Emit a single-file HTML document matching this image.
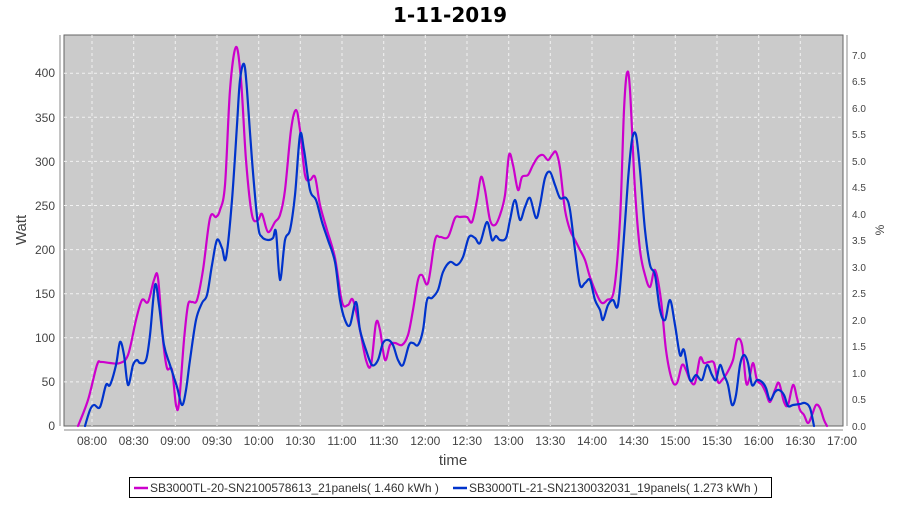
<!DOCTYPE html>
<html><head><meta charset="utf-8"><style>
body{margin:0;background:#fff;}
text{font-family:"Liberation Sans","DejaVu Sans",sans-serif;}
</style></head><body>
<svg width="900" height="500" xmlns="http://www.w3.org/2000/svg">
<rect width="900" height="500" fill="#fff"/>
<text x="450" y="22" text-anchor="middle" font-size="20" font-weight="bold" fill="#000" style="font-family:'DejaVu Sans',sans-serif">1-11-2019</text>
<rect x="64" y="35" width="779" height="391" fill="#cbcbcb" stroke="#666" stroke-width="1"/>
<g stroke="#f2f2f2" stroke-dasharray="3,3" stroke-width="1">
<line x1="64" x2="843" y1="381.9" y2="381.9"/><line x1="64" x2="843" y1="337.8" y2="337.8"/>
<line x1="64" x2="843" y1="293.7" y2="293.7"/><line x1="64" x2="843" y1="249.6" y2="249.6"/>
<line x1="64" x2="843" y1="205.5" y2="205.5"/><line x1="64" x2="843" y1="161.4" y2="161.4"/>
<line x1="64" x2="843" y1="117.3" y2="117.3"/><line x1="64" x2="843" y1="73.2" y2="73.2"/>
<line y1="35" y2="426" x1="92" x2="92"/><line y1="35" y2="426" x1="133.7" x2="133.7"/>
<line y1="35" y2="426" x1="175.3" x2="175.3"/><line y1="35" y2="426" x1="217" x2="217"/>
<line y1="35" y2="426" x1="258.7" x2="258.7"/><line y1="35" y2="426" x1="300.3" x2="300.3"/>
<line y1="35" y2="426" x1="342" x2="342"/><line y1="35" y2="426" x1="383.7" x2="383.7"/>
<line y1="35" y2="426" x1="425.3" x2="425.3"/><line y1="35" y2="426" x1="467" x2="467"/>
<line y1="35" y2="426" x1="508.7" x2="508.7"/><line y1="35" y2="426" x1="550.3" x2="550.3"/>
<line y1="35" y2="426" x1="592" x2="592"/><line y1="35" y2="426" x1="633.7" x2="633.7"/>
<line y1="35" y2="426" x1="675.3" x2="675.3"/><line y1="35" y2="426" x1="717" x2="717"/>
<line y1="35" y2="426" x1="758.7" x2="758.7"/><line y1="35" y2="426" x1="800.3" x2="800.3"/>
</g>
<g font-size="12" fill="#444" text-anchor="end">
<text x="55" y="430">0</text><text x="55" y="386">50</text><text x="55" y="342">100</text>
<text x="55" y="298">150</text><text x="55" y="254">200</text><text x="55" y="210">250</text>
<text x="55" y="166">300</text><text x="55" y="122">350</text><text x="55" y="77">400</text>
</g>
<g stroke="#888"><line x1="60" x2="60" y1="35" y2="426"/><line x1="847" x2="847" y1="35" y2="426"/><line x1="64" x2="843" y1="430" y2="430"/></g>
<g font-size="10" fill="#444">
<text x="852" y="430">0.0</text><text x="852" y="403">0.5</text><text x="852" y="377">1.0</text>
<text x="852" y="350">1.5</text><text x="852" y="324">2.0</text><text x="852" y="297">2.5</text>
<text x="852" y="271">3.0</text><text x="852" y="244">3.5</text><text x="852" y="218">4.0</text>
<text x="852" y="191">4.5</text><text x="852" y="165">5.0</text><text x="852" y="138">5.5</text>
<text x="852" y="112">6.0</text><text x="852" y="85">6.5</text><text x="852" y="59">7.0</text>
</g>
<g font-size="12" fill="#444" text-anchor="middle">
<text x="92" y="445">08:00</text><text x="133.7" y="445">08:30</text><text x="175.3" y="445">09:00</text>
<text x="217" y="445">09:30</text><text x="258.7" y="445">10:00</text><text x="300.3" y="445">10:30</text>
<text x="342" y="445">11:00</text><text x="383.7" y="445">11:30</text><text x="425.3" y="445">12:00</text>
<text x="467" y="445">12:30</text><text x="508.7" y="445">13:00</text><text x="550.3" y="445">13:30</text>
<text x="592" y="445">14:00</text><text x="633.7" y="445">14:30</text><text x="675.3" y="445">15:00</text>
<text x="717" y="445">15:30</text><text x="758.7" y="445">16:00</text><text x="800.3" y="445">16:30</text>
<text x="842" y="445">17:00</text>
</g>
<text x="453" y="465" text-anchor="middle" font-size="15" fill="#444">time</text>
<text transform="translate(26,230) rotate(-90)" text-anchor="middle" font-size="15" fill="#444">Watt</text>
<text transform="translate(884,230) rotate(-90)" text-anchor="middle" font-size="12" fill="#444">%</text>
<g fill="none" stroke-width="2.2" stroke-linejoin="round" stroke-linecap="round">
<polyline class="sm" stroke="#cc00cc" points="78,426 88,400 97,365 101,362 110,363 120,363 128,355 136,320 142,300 148,302 154,280 158,278 163,340 167,368 172,370 176,405 179,403 184,340 188,305 192,302 197,300 203,270 210,218 216,217 220,210 225,185 230,90 236,47 241,80 246,160 252,215 258,220 262,214 268,232 275,222 280,215 285,190 291,130 296,110 300,130 305,175 310,180 315,177 320,205 327,230 335,258 342,302 348,305 353,300 360,330 366,360 371,365 376,323 380,330 385,360 390,345 395,343 402,345 408,335 413,310 418,280 422,275 428,283 435,240 440,237 448,237 455,218 460,217 467,217 472,222 477,200 481,177 485,190 490,220 495,225 500,215 505,195 509,155 513,165 518,190 522,177 528,175 533,165 538,157 543,155 548,160 552,155 556,152 560,168 565,210 570,230 575,240 580,250 585,260 590,277 597,295 602,303 607,300 614,290 620,220 624,110 627,73 630,90 635,190 640,250 645,275 650,287 655,270 661,300 666,350 672,380 677,383 682,365 686,370 690,380 695,383 700,358 704,363 709,362 714,363 718,382 722,380 727,373 733,360 737,340 742,345 746,382 749,380 753,363 757,380 762,385 766,393 770,402 775,390 779,383 784,402 788,405 793,385 797,398 800,410 804,415 808,423 812,415 816,405 820,408 824,420 827,426"/>
<polyline class="sm" stroke="#0033cc" points="85,426 90,410 94,405 100,407 106,385 110,385 116,365 120,342 124,355 128,385 133,365 137,360 140,363 146,360 150,335 155,285 159,305 164,345 170,365 177,387 182,405 186,390 190,360 196,320 202,303 207,295 212,265 217,240 222,248 226,258 232,200 237,125 240,80 244,64 247,90 252,160 258,225 262,237 268,240 273,238 276,232 280,280 285,240 290,230 295,195 300,135 304,150 310,190 316,200 322,222 328,240 335,262 340,300 345,320 350,325 356,302 360,330 366,350 372,365 378,360 383,343 388,340 393,345 398,360 403,365 409,345 413,343 418,345 423,330 427,300 432,298 438,290 443,272 450,262 457,265 463,257 469,237 475,238 480,243 487,222 492,240 496,236 500,240 506,238 510,220 515,200 520,220 525,207 530,198 536,218 540,205 545,178 550,172 555,185 560,198 566,198 570,210 575,250 580,285 585,283 590,280 595,300 600,310 603,320 608,305 613,300 618,305 623,250 628,180 632,140 636,135 640,170 645,230 650,265 655,275 660,310 665,320 670,300 675,325 680,355 684,350 690,380 696,375 702,380 707,365 712,375 716,380 720,365 724,375 728,385 732,405 736,395 740,365 744,355 748,363 752,385 757,380 762,382 766,388 770,400 775,392 779,390 784,395 788,406 793,405 800,404 805,403 810,408 814,426"/>
</g>
<rect x="129.5" y="477.5" width="642" height="20" fill="#fff" stroke="#000"/>
<line x1="134" x2="148" y1="488" y2="488" stroke="#cc00cc" stroke-width="2.5"/>
<text x="150" y="492" font-size="12" fill="#333">SB3000TL-20-SN2100578613_21panels( 1.460 kWh )</text>
<line x1="453" x2="467" y1="488" y2="488" stroke="#0033cc" stroke-width="2.5"/>
<text x="469" y="492" font-size="12" fill="#333">SB3000TL-21-SN2130032031_19panels( 1.273 kWh )</text>
</svg>
<script>
document.querySelectorAll('polyline.sm').forEach(function(pl){
  var p=pl.getAttribute('points').trim().split(/\s+/).map(function(s){return s.split(',').map(Number);});
  var d='M'+p[0][0]+','+p[0][1];
  for(var i=0;i<p.length-1;i++){
    var p0=p[i-1]||p[i],p1=p[i],p2=p[i+1],p3=p[i+2]||p2;
    var c1x=p1[0]+(p2[0]-p0[0])/6,c1y=p1[1]+(p2[1]-p0[1])/6;
    var c2x=p2[0]-(p3[0]-p1[0])/6,c2y=p2[1]-(p3[1]-p1[1])/6;
    d+=' C'+c1x.toFixed(1)+','+c1y.toFixed(1)+' '+c2x.toFixed(1)+','+c2y.toFixed(1)+' '+p2[0]+','+p2[1];
  }
  var path=document.createElementNS('http://www.w3.org/2000/svg','path');
  path.setAttribute('d',d);path.setAttribute('stroke',pl.getAttribute('stroke'));
  pl.parentNode.replaceChild(path,pl);
});
</script>
</body></html>
